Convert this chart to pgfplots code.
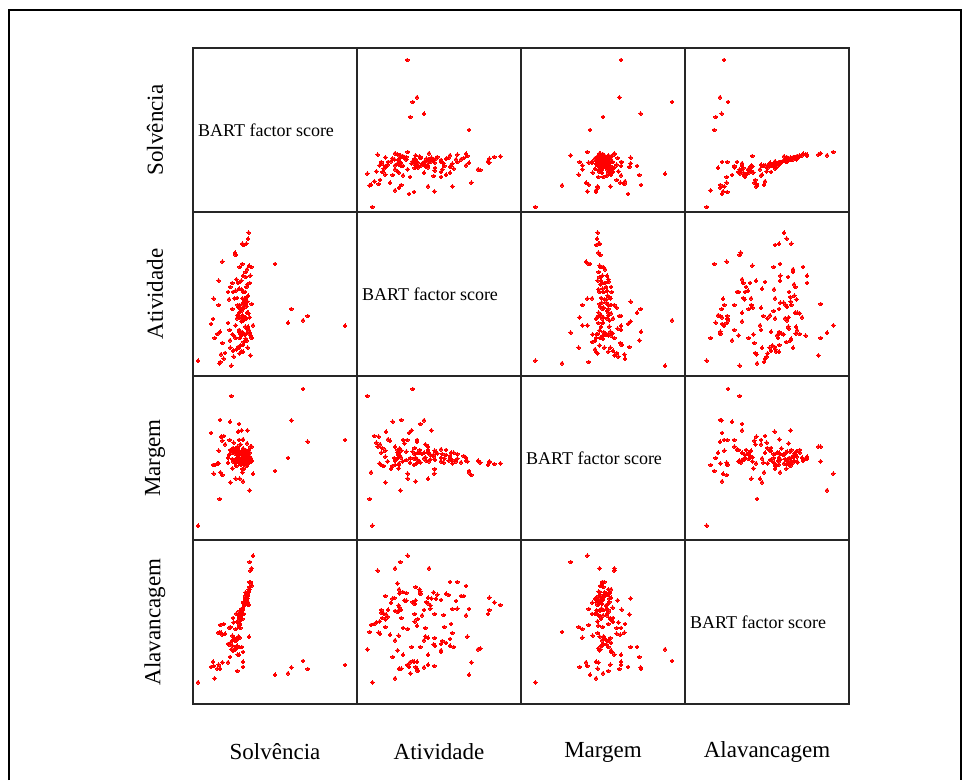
\documentclass[border=0pt]{standalone}
\usepackage{fontspec}
\setmainfont{Liberation Serif}
\usepackage{pgfplots}
\usepackage{pgfplotstable}
\pgfplotsset{compat=1.18}

% factor scores, one row per firm (scaled to the cell)
\pgfplotstableread{
S A M L
167 430 230 297
165 412 228 305
160 397 233 319
148 397 236 282
152 393 226 270
126 370 232 167
128 363 238 164
246 336 207 88
88 343 195 125
168 331 236 202
148 336 203 285
140 327 246 266
175 327 238 354
162 320 252 324
158 312 233 324
172 301 244 366
150 301 258 286
145 286 240 285
158 297 236 309
130 290 262 171
118 279 243 175
135 279 252 195
77 286 230 213
140 282 262 240
170 279 250 366
163 275 238 327
160 267 255 331
112 267 270 183
138 262 245 231
146 260 232 267
128 256 258 189
105 252 247 180
120 252 236 161
150 252 272 156
156 252 246 312
161 237 265 316
165 241 260 328
158 230 250 335
132 234 240 175
108 230 256 179
124 233 268 198
148 233 213 270
62 232 199 114
134 213 280 148
77 213 268 118
140 213 184 199
118 201 262 191
137 205 248 203
142 205 287 228
150 220 242 286
155 220 256 296
152 213 262 302
160 208 238 306
163 223 329 317
158 213 270 319
176 216 236 407
295 201 359 110
138 190 348 171
145 195 258 266
150 201 245 282
162 190 262 330
165 190 233 337
167 188 270 344
170 176 247 351
133 182 262 99
344 180 295 105
150 180 300 127
60 171 225 127
150 176 176 111
330 167 453 129
105 159 232 125
456 151 300 117
54 156 321 111
285 160 246 92
146 164 329 171
139 180 232 235
132 173 276 247
148 182 240 255
144 173 258 270
160 173 243 300
156 176 228 311
152 167 265 306
128 152 184 225
110 138 300 228
138 133 268 258
147 132 248 282
143 125 226 281
150 128 275 289
155 125 255 296
157 148 240 310
162 142 290 311
165 148 265 333
168 137 236 336
160 127 252 332
170 126 262 344
174 121 245 362
138 138 300 148
121 122 270 161
81 133 360 106
73 126 230 106
65 114 225 77
111 107 355 141
128 114 243 191
118 125 215 205
146 122 262 276
140 114 237 279
158 112 246 318
152 102 214 304
161 106 222 316
164 85 250 324
150 93 302 283
88 99 298 208
96 69 287 211
84 65 310 214
112 85 173 231
138 85 268 254
142 92 236 262
135 87 325 269
130 80 222 271
120 76 276 258
144 73 225 274
150 73 262 282
122 58 292 245
140 68 230 248
92 52 312 240
82 42 203 237
80 38 123 216
115 31 432 164
15 46 43 65
172 62 280 400
176 114 280 407
170 130 149 426
180 152 199 445
}\data

\pgfplotsset{
  cell/.style={width=164pt, height=164pt, scale only axis, anchor=north west,
    xmin=0, xmax=492, ymin=0, ymax=492, xtick=\empty, ytick=\empty,
    axis line style={line width=1.2pt, black!85}},
}
\newcommand{\panel}[4]{%
  \begin{axis}[cell, at={(193pt+164pt*#1, 732pt-164pt*#2)}]
    \addplot[only marks, mark=*, mark size=1.9pt, red,
      mark options={fill=red, draw=red, line width=0pt}] table[x=#3, y=#4]{\data};
  \end{axis}}
\newcommand{\diag}[1]{%
  \begin{axis}[cell, at={(193pt+164pt*#1, 732pt-164pt*#1)}]
    \node[anchor=west, font=\fontsize{18}{21}\selectfont, inner sep=0pt]
      at (rel axis cs:0.03,0.5) {BART factor score};
  \end{axis}}

\begin{document}
\begin{tikzpicture}
\path[use as bounding box] (0pt,0pt) rectangle (964pt,780pt);
\draw[line width=2pt] (9pt,0pt) -- (9pt,770pt) -- (961pt,770pt) -- (961pt,0pt);

\diag{0}
\panel{1}{0}{A}{S}
\panel{2}{0}{M}{S}
\panel{3}{0}{L}{S}
\panel{0}{1}{S}{A}
\diag{1}
\panel{2}{1}{M}{A}
\panel{3}{1}{L}{A}
\panel{0}{2}{S}{M}
\panel{1}{2}{A}{M}
\diag{2}
\panel{3}{2}{L}{M}
\panel{0}{3}{S}{L}
\panel{1}{3}{A}{L}
\panel{2}{3}{M}{L}
\diag{3}

\foreach \lab [count=\i from 0] in {Solvência,Atividade,Margem,Alavancagem}{
  \node[rotate=90, font=\fontsize{23}{26}\selectfont] at (155pt, 650pt-164pt*\i) {\lab};
  \node[font=\fontsize{23}{26}\selectfont] at (275pt+164pt*\i, 28pt) {\lab};
}
\end{tikzpicture}
\end{document}
